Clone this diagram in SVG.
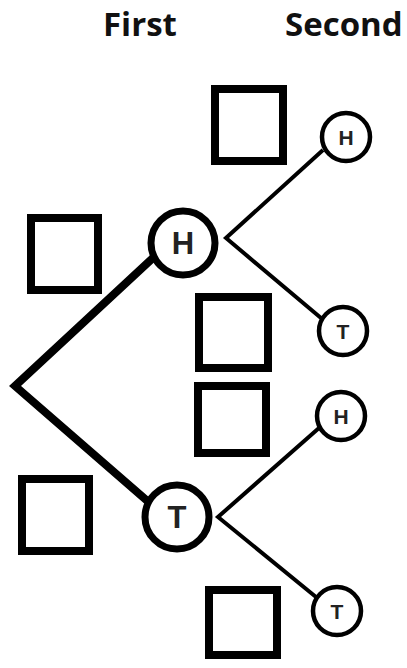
<svg xmlns="http://www.w3.org/2000/svg" width="407" height="668" viewBox="0 0 407 668">
  <style>
    .title { font-family: "Open Sans", "Liberation Sans", sans-serif; font-weight: bold; font-size: 33px; fill: #111; }
    .box { fill: none; stroke: #000; stroke-width: 8; }
    .big { fill: #fff; stroke: #000; stroke-width: 7; }
    .small { fill: #fff; stroke: #000; stroke-width: 4.5; }
    .lbig { font-family: "Liberation Sans", Arial, sans-serif; font-weight: bold; font-size: 31px; fill: #222; text-anchor: middle; }
    .lsmall { font-family: "Liberation Sans", Arial, sans-serif; font-weight: bold; font-size: 21px; fill: #222; text-anchor: middle; }
    .thick { stroke: #000; stroke-width: 8; fill: none; stroke-linejoin: miter; }
    .thin { stroke: #000; stroke-width: 4; fill: none; stroke-linejoin: miter; }
  </style>
  <rect width="407" height="668" fill="#fff"/>

  <!-- column headings -->
  <text class="title" x="103" y="36">First</text>
  <text class="title" x="285" y="36">Second</text>

  <!-- empty answer boxes -->
  <g id="boxes">
    <rect class="box" x="215" y="89" width="68" height="72"/>
    <rect class="box" x="31" y="218" width="67" height="72"/>
    <rect class="box" x="199" y="297" width="69" height="71"/>
    <rect class="box" x="198" y="386" width="68" height="67"/>
    <rect class="box" x="22" y="479" width="67" height="72"/>
    <rect class="box" x="209" y="590" width="68" height="65"/>
  </g>

  <!-- branches -->
  <g id="connectors">
    <polyline class="thick" points="155,256 15,386 152,505"/>
    <polyline class="thin" points="323,150 226,238 321,318"/>
    <polyline class="thin" points="319,428 218,517 316,597"/>
  </g>

  <g id="first-H">
    <circle class="big" cx="183" cy="243" r="32"/>
    <text class="lbig" x="183" y="254">H</text>
  </g>
  <g id="first-T">
    <circle class="big" cx="177" cy="517" r="32"/>
    <text class="lbig" x="177" y="528">T</text>
  </g>

  <g id="second-HH">
    <circle class="small" cx="346" cy="137" r="24"/>
    <text class="lsmall" x="346" y="145">H</text>
  </g>
  <g id="second-HT">
    <circle class="small" cx="343" cy="331" r="24"/>
    <text class="lsmall" x="343" y="339">T</text>
  </g>
  <g id="second-TH">
    <circle class="small" cx="341" cy="416" r="24"/>
    <text class="lsmall" x="341" y="424">H</text>
  </g>
  <g id="second-TT">
    <circle class="small" cx="337" cy="611" r="24"/>
    <text class="lsmall" x="337" y="619">T</text>
  </g>
</svg>
